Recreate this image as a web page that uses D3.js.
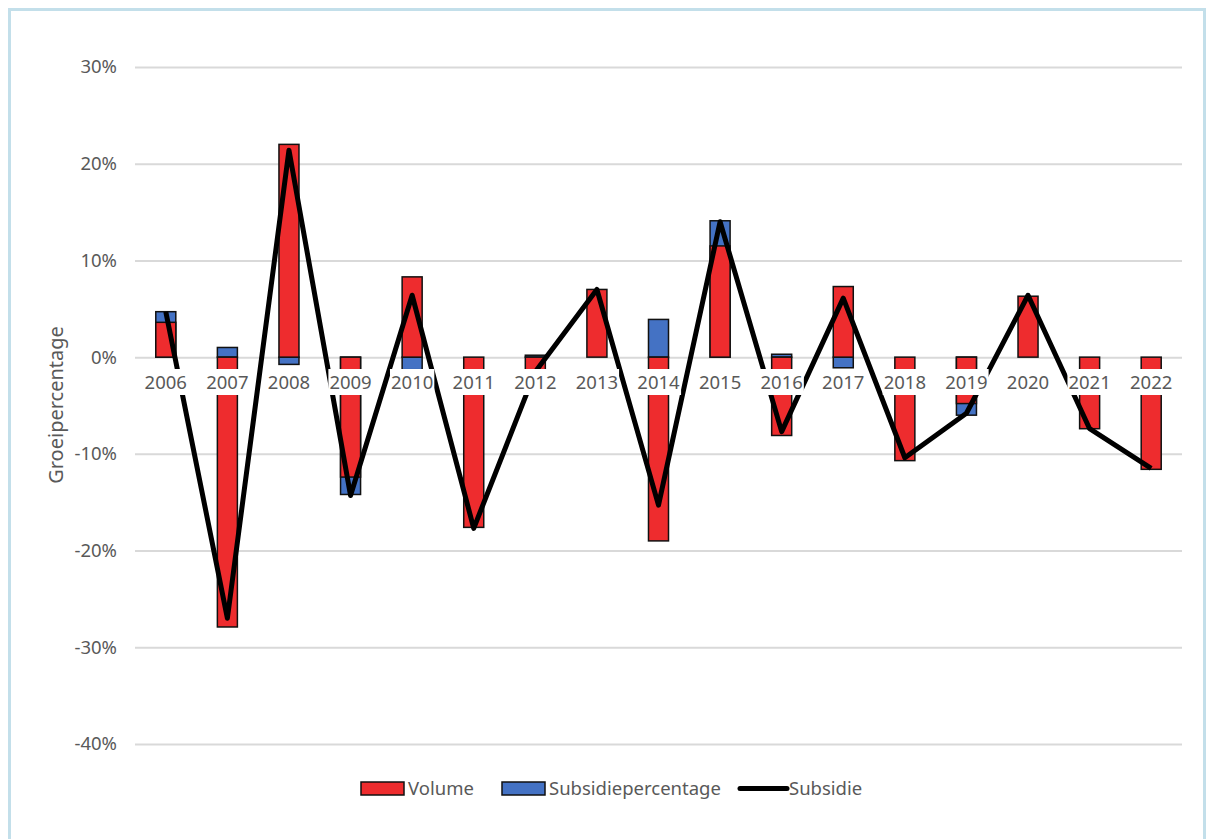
<!DOCTYPE html>
<html>
<head>
<meta charset="utf-8">
<script src="https://cdn.jsdelivr.net/npm/d3@7"></script>
<style>
  body { margin: 0; background: #fff; }
  text { font-family: "Noto Sans", sans-serif; fill: #595959; }
</style>
</head>
<body>
<div id="chart"></div>
<script>
// Data (growth in %)
const years = ["2006", "2007", "2008", "2009", "2010", "2011", "2012", "2013", "2014",
  "2015", "2016", "2017", "2018", "2019", "2020", "2021", "2022"];
const volume = [3.6, -27.9, 22.0, -12.4, 8.3, -17.6, -1.6, 7.0, -19.0, 11.5, -8.1, 7.3, -10.7, -4.8, 6.3, -7.4, -11.6];
const subsidiePct = [4.7, 1.0, -0.75, -14.2, -1.3, 0, 0.2, 0, 3.9, 14.1, 0.3, -1.1, 0, -6.0, 0, 0, 0];
const subsidie = [4.7, -27.0, 21.4, -14.3, 6.4, -17.7, -1.5, 7.0, -15.3, 14.0, -7.7, 6.1, -10.4, -5.8, 6.4, -7.4, -11.5];
const yTicks = [-40, -30, -20, -10, 0, 10, 20, 30];

const width = 1213;
const height = 839;
const fs = "18.5px";

const svg = d3.select("#chart")
  .append("svg")
  .attr("width", width)
  .attr("height", height);

// light blue frame
svg.append("rect")
  .attr("x", 9.5).attr("y", 9.5)
  .attr("width", 1195).attr("height", 850)
  .attr("fill", "none")
  .attr("stroke", "#c3dfea")
  .attr("stroke-width", 3);

const x = d3.scaleBand()
  .domain(years)
  .range([135, 1182])
  .padding(0);

const y = d3.scaleLinear()
  .domain([-40, 30])
  .range([744, 67]);

// gridlines + y labels
const yAxis = svg.append("g")
  .attr("transform", "translate(135,0)")
  .call(d3.axisLeft(y)
    .tickValues(yTicks)
    .tickSize(-(1182 - 135))
    .tickPadding(18)
    .tickFormat(d => d + "%"));
yAxis.select(".domain").remove();
yAxis.selectAll("line").attr("stroke", "#d9d9d9").attr("stroke-width", 2);
yAxis.selectAll("text")
  .style("font-size", fs)
  .style("font-family", "'Noto Sans', sans-serif")
  .attr("fill", "#595959");

// y axis title
svg.append("text")
  .attr("transform", "translate(63,405) rotate(-90)")
  .attr("text-anchor", "middle")
  .style("font-size", "20px")
  .text("Groeipercentage");

const barW = x.bandwidth() * 0.325;

function barRect(d) {
  return { top: y(Math.max(0, d)), h: Math.abs(y(d) - y(0)) };
}

// Subsidiepercentage bars (behind)
svg.append("g").selectAll("rect")
  .data(subsidiePct)
  .join("rect")
  .attr("x", (d, i) => x(years[i]) + (x.bandwidth() - barW) / 2)
  .attr("y", d => barRect(d).top)
  .attr("width", barW)
  .attr("height", d => barRect(d).h)
  .attr("fill", "#4472c4")
  .attr("stroke", d => d === 0 ? "none" : "#111")
  .attr("stroke-width", 1.5);

// Volume bars (front)
svg.append("g").selectAll("rect")
  .data(volume)
  .join("rect")
  .attr("x", (d, i) => x(years[i]) + (x.bandwidth() - barW) / 2)
  .attr("y", d => barRect(d).top)
  .attr("width", barW)
  .attr("height", d => barRect(d).h)
  .attr("fill", "#ee2c2e")
  .attr("stroke", "#111")
  .attr("stroke-width", 1.5);

// Subsidie line
const line = d3.line()
  .x((d, i) => x(years[i]) + x.bandwidth() / 2)
  .y(d => y(d));

svg.append("path")
  .datum(subsidie)
  .attr("d", line)
  .attr("fill", "none")
  .attr("stroke", "#000")
  .attr("stroke-width", 5)
  .attr("stroke-linejoin", "round");

// category labels with white background, on top of everything
const labels = svg.append("g").selectAll("g")
  .data(years)
  .join("g");
const labelText = labels.append("text")
  .attr("x", d => x(d) + x.bandwidth() / 2)
  .attr("y", 389)
  .attr("text-anchor", "middle")
  .style("font-size", fs)
  .text(d => d);
labelText.each(function () {
  const b = this.getBBox();
  d3.select(this.parentNode).insert("rect", "text")
    .attr("x", b.x - 1)
    .attr("y", 369)
    .attr("width", b.width + 2)
    .attr("height", 26)
    .attr("fill", "#fff");
});

// legend
const legend = svg.append("g");
legend.append("rect")
  .attr("x", 361).attr("y", 782).attr("width", 43).attr("height", 13)
  .attr("fill", "#ee2c2e").attr("stroke", "#111").attr("stroke-width", 1.5);
legend.append("text")
  .attr("x", 408).attr("y", 795).style("font-size", fs).text("Volume");
legend.append("rect")
  .attr("x", 502).attr("y", 782).attr("width", 43).attr("height", 13)
  .attr("fill", "#4472c4").attr("stroke", "#111").attr("stroke-width", 1.5);
legend.append("text")
  .attr("x", 549).attr("y", 795).style("font-size", fs).text("Subsidiepercentage");
legend.append("line")
  .attr("x1", 740).attr("x2", 787).attr("y1", 788.5).attr("y2", 788.5)
  .attr("stroke", "#000").attr("stroke-width", 5).attr("stroke-linecap", "round");
legend.append("text")
  .attr("x", 789).attr("y", 795).style("font-size", fs).text("Subsidie");
</script>
</body>
</html>
